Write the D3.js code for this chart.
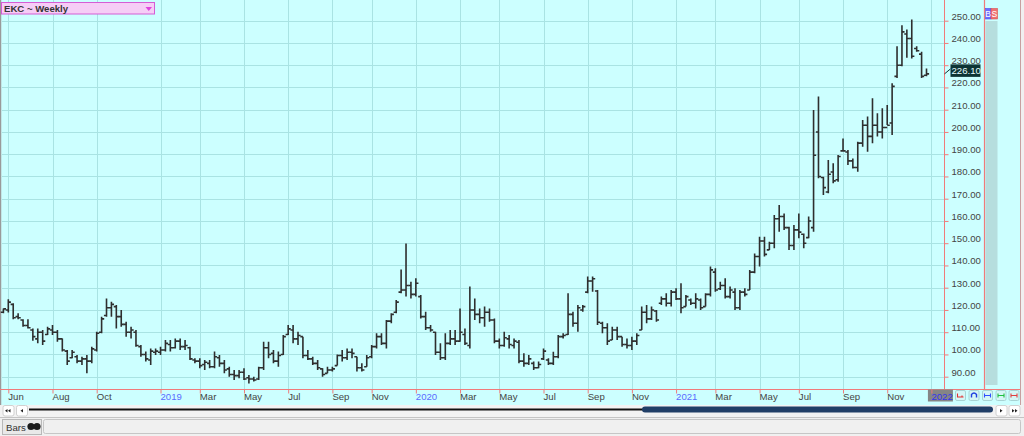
<!DOCTYPE html>
<html>
<head>
<meta charset="utf-8">
<script src="https://cdn.jsdelivr.net/npm/d3@7"></script>
<style>
  html, body { margin: 0; padding: 0; background: #f0f0f0; overflow: hidden; }
  svg { display: block; font-family: "Liberation Sans", Arial, sans-serif; }
</style>
</head>
<body>
<svg id="chart" width="1024" height="436"></svg>
<script>
// ---------------- DATA ----------------
const title = "EKC ~ Weekly";
const firstBarDate = "2018-05-25";   // weekly bars (Fridays)
const lastBarDate = "2021-12-31";

const open = [
  119,120,122.5,117,115.5,113,111,107,110,109,
  111,110,107,101.5,98.5,99,97,98,97,102,
  110,117.5,121,121.5,117,113.5,110,110,103.5,100,
  97.5,101,101,102,104.5,103,106,103.5,103,97.5,
  97,95.5,96,94.5,98.5,96,93.5,91,90.5,92,
  89.5,89,89,94,103,100.5,97,100,109,111,
  107,108,99.5,98,96,93.5,91.5,93,95,99.5,
  98.5,101,99,94,94.5,99,103.5,108,105,115,
  119,128,129,131,127,126,117,112,110,101,
  98.5,105,107,106,109,104,120,118,116.5,119,
  115.5,106,104,107,104,105.5,97,96,96,94,
  98,97.5,96,99,108,109,118,114,120,128,
  133,128.5,114,112,106.5,111,108,104.5,104,106,
  111,119,116,119.5,123,125,123,128,125,121.5,
  124.5,123,124.5,121.5,127,137,129.5,131,126,128,
  121,128,129,137,144,151,147,150,161,162,
  157,149,156,154,152.5,157,200,179.5,173,182,
  178.5,191.5,191,187,184,195,203,198,203,200,
  202,204,225,230,244,242,237.5,235,225.5
];
const high = [
  120.7,124.8,123,118.5,115.8,115.8,111.7,111.7,111,112.5,
  113.2,111,107.2,102,102,99.8,99,99.8,103.5,110.2,
  117,125.2,123.7,122.2,120,114.7,112.5,111,104.2,101.3,
  102.7,102.7,103.5,106.5,106.5,107.2,107.2,106.5,103.5,98.3,
  98.3,97.5,97.5,101.3,99.8,97.5,94.5,93,93,93.8,
  90.8,90,94.5,105.7,105.7,102,101.3,108.7,113.2,113.2,
  110.2,108,102,99,97.5,93.8,94.5,94.5,100,102,
  102.7,102.7,99,96,99.7,104.2,109.5,109.5,115.5,118.5,
  124.5,138.2,149.9,132.7,134.2,126.7,119.2,113.2,110.2,105,
  109.5,111,111,120.7,111.7,130.5,125.2,120.7,121.5,120.7,
  116.2,107.2,110.2,108.7,107.2,106.5,100.5,99.7,96.8,96.8,
  102.7,98.3,101.2,108.7,109.5,127.5,119.2,122.2,122.2,135,
  135,129,114.7,114,112.5,112.5,108,107.2,108,109.5,
  121.5,122.2,121.5,120,126,127.5,129,129.7,132,126.7,
  125.2,127.5,125.2,127.5,139.5,138.7,132.7,134.2,130.5,129.7,
  129,129.7,138,145.4,152.9,152.9,150.7,162.7,167.2,163.4,
  157.4,158.2,163.4,154.4,162,209.9,215.9,179.9,187.4,185.9,
  189.6,197.1,191.9,188.1,195.6,205.4,206.9,215.1,208.4,210.6,
  212.1,221.9,238.5,248,246,250.5,238.5,236,228.5
];
const low = [
  118.5,118.8,115.8,115.8,112.5,111.7,106.2,105,104.2,108.7,
  108.7,105.7,101.3,95.3,98.3,96,95.3,91.5,96,101.3,
  109.5,117,117,111.7,112.5,108,107.2,103.5,99,96.8,
  95.3,99.8,99.8,101.3,101.3,102.7,102,102,97.5,96,
  93.8,93,93.8,93.8,94.5,91.5,90,88.5,89.3,88.5,
  87,87.8,88.5,93,98.3,96,94.5,99.8,108.7,105,
  104.2,98.3,97.5,95.3,93,90,91.5,92.3,95,96.8,
  97.5,98.3,92.3,92.3,94.5,98.3,102.7,104.2,102.7,114,
  118.5,127.5,126,125.2,126,116.2,111,110.2,99.7,97.5,
  97.5,104.2,104.2,105.7,104.2,102.7,115.5,114,112.5,114.7,
  105,102.7,103.5,102.7,102.7,96,94.5,95.3,93,93.8,
  97.5,95.3,95.3,98.3,107.2,108.7,112.5,110.2,119.2,127.5,
  128.2,113.2,109.5,104.2,106.5,106.5,103.5,102.7,102,104.2,
  111,114,115.5,114.7,122.2,121.5,121.5,124.5,118.5,121.5,
  122.2,120.7,120,121.5,126,128.2,129,125.2,125.2,120,
  120,126,129,136.5,139.5,144,146.9,147.7,155.2,155.9,
  146.9,147,152.2,147.7,152.2,155.2,179.2,171.7,172.4,176.9,
  177.6,191.1,185.1,183.6,182.1,193.4,191.1,194.9,197.9,197.1,
  203.1,198.6,224.3,229.5,233.3,233,236,224.3,225
];
const close = [
  120.5,123.5,116.5,116.5,113,112,108,110,106,111.5,
  110,107,102,97,101,97,98,97,102.5,109.5,
  116,121,122.5,117,113.5,110,111,104,100,98,
  101.5,101.5,102,105,103,106,103.5,104,98,97,
  95,96.5,94.5,99,96,93,91,90.5,92,89,
  89,88.5,94,103,100,97,99.5,108,111.5,107,
  108.5,99.5,98,96,94,91,93,93.5,99.5,98.5,
  101,100.5,94,93,98.5,103.5,108,105,115,118,
  123.5,129,131,127,132,117,112,111,101,98.5,
  105,107,106,110,105,120,118,116.5,119,115.5,
  106,104,107.5,104.5,106,97,96,98,94,95.5,
  101.5,96,99,108,108.5,118,114,121,121.5,133,
  134,114.5,112,106,111,108,104.5,104,106,108.5,
  119,116,120,115.5,125,123,128,125,121,126,
  123,125,121,127,138,129,131,126,129,121,
  128,127,137,144,151,145,150,161,162,157,
  149,156,155,150,160,189.5,180,175,181,178,
  189,191.5,187,184,195,203,198,203,200,202,
  203,220.5,230,245,242,234,236.5,225,226.1
];
const lastPrice = 226.10;

// y ticks
const yTickValues = [90,100,110,120,130,140,150,160,170,180,190,200,210,220,230,240,250];
// x ticks: first weekly bar of each labelled month
const xTickDates = ["2018-06-01","2018-08-03","2018-10-05","2019-01-04","2019-03-01","2019-05-03",
  "2019-07-05","2019-09-06","2019-11-01","2020-01-03","2020-03-06","2020-05-01","2020-07-03",
  "2020-09-04","2020-11-06","2021-01-08","2021-03-05","2021-05-07","2021-07-02","2021-09-03",
  "2021-11-05","2022-01-07"];
const xTickLabels = ["Jun","Aug","Oct","2019","Mar","May","Jul","Sep","Nov","2020","Mar","May",
  "Jul","Sep","Nov","2021","Mar","May","Jul","Sep","Nov","2022"];

// ---------------- BUILD ----------------
const parse = d3.utcParse("%Y-%m-%d");
const barDates = d3.utcFriday.range(parse(firstBarDate), d3.utcDay.offset(parse(lastBarDate), 1));
const bars = barDates.map((d, i) => ({ date: d, o: open[i], h: high[i], l: low[i], c: close[i] }));
const ticks = xTickDates.map((d, i) => ({ date: parse(d), label: xTickLabels[i] }));

const W = 1024, H = 436;
const plotRight = 944.5, plotBottom = 389.5;
const svg = d3.select("#chart");

const x = d3.scaleUtc()
  .domain([parse(firstBarDate), parse(lastBarDate)])
  .range([3.4, 926.5]);
const y = d3.scaleLinear().domain([90, 250]).range([376.7, 20.7]);

const RED = "#f07a7a";
const GRID = "#a9e3e3";
const BG = "#ccffff";

// backgrounds
svg.append("rect").attr("x", 0).attr("y", 0).attr("width", W).attr("height", H).attr("fill", "#f0f0f0");
svg.append("rect").attr("x", 0).attr("y", 0).attr("width", 1021).attr("height", 405).attr("fill", BG);
svg.append("line").attr("x1", 0.5).attr("x2", 0.5).attr("y1", 0).attr("y2", 405)
  .attr("stroke", "#9a9a9a").attr("stroke-width", 1.5);
svg.append("line").attr("x1", 1020.5).attr("x2", 1020.5).attr("y1", 0).attr("y2", 405)
  .attr("stroke", "#c8a0a0").attr("stroke-width", 1);

// grid
const grid = svg.append("g");
grid.selectAll("line.h").data(yTickValues).join("line")
  .attr("x1", 2).attr("x2", plotRight)
  .attr("y1", d => Math.round(y(d)) + 0.5).attr("y2", d => Math.round(y(d)) + 0.5)
  .attr("stroke", GRID).attr("stroke-width", 1);
grid.selectAll("line.v").data(ticks).join("line")
  .attr("x1", d => Math.round(x(d.date)) + 0.5).attr("x2", d => Math.round(x(d.date)) + 0.5)
  .attr("y1", 0).attr("y2", plotBottom)
  .attr("stroke", GRID).attr("stroke-width", 1);

// right shaded column + B / S
svg.append("rect").attr("x", 985.5).attr("y", 21).attr("width", 12).attr("height", 364).attr("fill", "#b6dede");
svg.append("rect").attr("x", 985.5).attr("y", 8.5).attr("width", 5.5).attr("height", 10.5)
  .attr("fill", "#6d6dff").attr("stroke", "#4a4aee").attr("stroke-width", 0.6);
svg.append("rect").attr("x", 991).attr("y", 8.5).attr("width", 6.5).attr("height", 10.5)
  .attr("fill", "#f07070").attr("stroke", "#d85050").attr("stroke-width", 0.6);
svg.append("text").attr("x", 988.2).attr("y", 17.3).attr("text-anchor", "middle")
  .attr("font-size", 8.5).attr("fill", "#ffffff").text("B");
svg.append("text").attr("x", 994.3).attr("y", 17.3).attr("text-anchor", "middle")
  .attr("font-size", 8.5).attr("fill", "#ffffff").text("S");

// red frame lines
svg.append("line").attr("x1", 0).attr("x2", 1020).attr("y1", plotBottom).attr("y2", plotBottom)
  .attr("stroke", RED).attr("stroke-width", 1);
svg.append("line").attr("x1", plotRight).attr("x2", plotRight).attr("y1", 0).attr("y2", plotBottom)
  .attr("stroke", RED).attr("stroke-width", 1);
svg.append("line").attr("x1", 984.5).attr("x2", 984.5).attr("y1", 0).attr("y2", plotBottom)
  .attr("stroke", RED).attr("stroke-width", 1.2);

// y axis (right)
const yAxis = svg.append("g").attr("transform", `translate(${plotRight},0)`)
  .call(d3.axisRight(y).tickValues(yTickValues).tickFormat(d3.format(".2f")).tickSize(4).tickPadding(3));
yAxis.select(".domain").remove();
yAxis.selectAll(".tick line").attr("stroke", RED);
yAxis.selectAll(".tick text").attr("font-size", 9.6).attr("fill", "#444").attr("dy", "-1.5")
  .attr("font-family", "'Liberation Sans', Arial, sans-serif");

// 2022 highlight box (behind axis labels)
const lastTick = ticks[ticks.length - 1];
svg.append("rect").attr("x", x(lastTick.date) - 3.5).attr("y", 389.5).attr("width", 25).attr("height", 12)
  .attr("fill", "#858585");

// x axis
const xAxis = svg.append("g").attr("transform", `translate(0,${plotBottom})`)
  .call(d3.axisBottom(x).tickValues(ticks.map(t => t.date))
    .tickFormat((d, i) => xTickLabels[i]).tickSize(4));
xAxis.select(".domain").remove();
xAxis.selectAll(".tick line").attr("stroke", RED);
xAxis.selectAll(".tick text")
  .attr("text-anchor", "start").attr("y", 10.5).attr("dy", 0).attr("dx", -0.5)
  .attr("font-size", 9.6).attr("font-family", "'Liberation Sans', Arial, sans-serif")
  .attr("fill", (d, i) => /^\d{4}$/.test(xTickLabels[i]) ? (i === ticks.length - 1 ? "#3333ee" : "#5a6bff") : "#444");

// OHLC bars
const barG = svg.append("g").attr("stroke", "#2e2e2e").attr("stroke-width", 1.6).attr("fill", "none");
barG.selectAll("path").data(bars).join("path")
  .attr("d", d => {
    const cx = x(d.date);
    return `M${cx},${y(d.h)}V${y(d.l)}M${cx - 2.6},${y(d.o)}H${cx}M${cx},${y(d.c)}H${cx + 2.6}`;
  });

// last price marker
const ly = y(lastPrice);
svg.append("line").attr("x1", plotRight).attr("y1", ly).attr("x2", 950.5).attr("y2", ly - 5)
  .attr("stroke", "#0d3434").attr("stroke-width", 1);
svg.append("rect").attr("x", 950.5).attr("y", ly - 9.5).attr("width", 30).attr("height", 12.5)
  .attr("fill", "#0d3434");
svg.append("text").attr("x", 951.5).attr("y", ly + 0.3).attr("font-size", 9.6)
  .attr("fill", "#e8ffff").text(d3.format(".2f")(lastPrice));

// legend / title box
svg.append("rect").attr("x", 1.5).attr("y", 2.5).attr("width", 153).attr("height", 11.5)
  .attr("fill", "#f6cdf6").attr("stroke", "#d55cd5").attr("stroke-width", 1);
svg.append("text").attr("x", 4).attr("y", 11.8).attr("font-size", 9.6).attr("fill", "#333")
  .attr("font-weight", "bold").text(title);
svg.append("path").attr("d", "M145.5,7 L152,7 L148.75,11 Z").attr("fill", "#dd44dd");

// buttons right of x axis
const btnColors = ["#e03030", "#2040e0", "#3050ff", "#20c040", "#e04040"];
const btnX = [955, 968.5, 982, 995.5, 1008.5];
btnX.forEach((bx, i) => {
  svg.append("rect").attr("x", bx + 0.5).attr("y", 390.5).attr("width", 10).attr("height", 10).attr("rx", 1.5)
    .attr("fill", "#d6f6f6").attr("stroke", "#a8d4d4").attr("stroke-width", 1);
  const g = svg.append("g").attr("stroke", btnColors[i]).attr("stroke-width", 1.1).attr("fill", "none");
  const cx = bx + 5.5, cy = 395.5;
  if (i === 0) g.append("path").attr("d", `M${cx - 3},${cy - 2}V${cy + 1.5}H${cx + 3}M${cx + 1.5},${cy}V${cy + 1.5}`);
  else if (i === 1) g.append("path").attr("d", `M${cx - 2.5},${cy + 2}V${cy - 1}Q${cx},${cy - 4} ${cx + 2.5},${cy - 1}V${cy + 2}`).attr("stroke-width", 1.4);
  else g.append("path").attr("d", `M${cx - 3},${cy - 2}V${cy + 2}M${cx + 3},${cy - 2}V${cy + 2}M${cx - 3},${cy}H${cx + 3}`);
});

// scroll row
svg.append("rect").attr("x", 0).attr("y", 405).attr("width", W).attr("height", 12).attr("fill", "#f2f2f2");
function smallBtn(bx, glyph) {
  svg.append("rect").attr("x", bx + 0.5).attr("y", 405.5).attr("width", 11).attr("height", 10.5).attr("rx", 2)
    .attr("fill", "#ffffff").attr("stroke", "#d0d0d0");
  svg.append("path").attr("d", glyph).attr("fill", "#222");
}
smallBtn(2.5, "M5,410.7 L7.5,409 L7.5,412.4 Z M8,410.7 L10.5,409 L10.5,412.4 Z");
smallBtn(16, "M20.5,410.7 L23,409 L23,412.4 Z");
smallBtn(995.5, "M1000,409 L1002.5,410.7 L1000,412.4 Z");
smallBtn(1008.5, "M1012,409 L1014.5,410.7 L1012,412.4 Z M1015,409 L1017.5,410.7 L1015,412.4 Z");
svg.append("line").attr("x1", 29).attr("x2", 645).attr("y1", 409.5).attr("y2", 409.5)
  .attr("stroke", "#111").attr("stroke-width", 2);
svg.append("rect").attr("x", 642).attr("y", 406.5).attr("width", 351).attr("height", 6).attr("rx", 3)
  .attr("fill", "#203e66");

// bottom tab row
svg.append("line").attr("x1", 0).attr("x2", W).attr("y1", 417.5).attr("y2", 417.5).attr("stroke", "#c4c4c4");
svg.append("rect").attr("x", 43.5).attr("y", 419.5).attr("width", 977).attr("height", 14).attr("rx", 2)
  .attr("fill", "#f0f0f0").attr("stroke", "#c6c6c6");
svg.append("rect").attr("x", 2.5).attr("y", 419.5).attr("width", 39).attr("height", 15)
  .attr("fill", "#e9e9e9").attr("stroke", "#b8b8b8");
svg.append("text").attr("x", 6).attr("y", 430.5).attr("font-size", 9.6).attr("fill", "#333").text("Bars");
svg.append("circle").attr("cx", 31).attr("cy", 426.5).attr("r", 3.6).attr("fill", "#1a1a1a");
svg.append("circle").attr("cx", 37).attr("cy", 426.5).attr("r", 3.6).attr("fill", "#1a1a1a");
</script>
</body>
</html>
